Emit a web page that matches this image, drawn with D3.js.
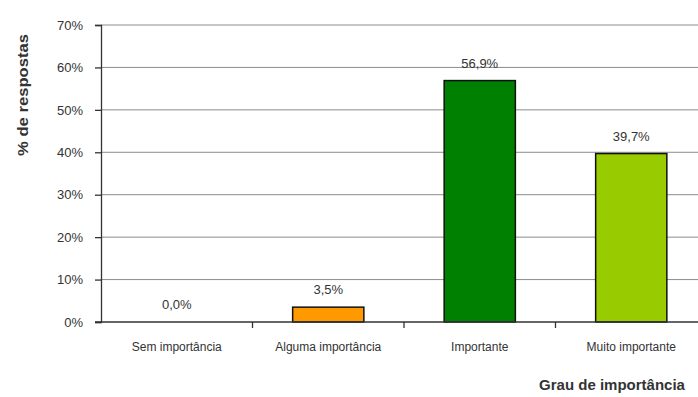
<!DOCTYPE html>
<html>
<head>
<meta charset="utf-8">
<script src="https://cdn.jsdelivr.net/npm/d3@7"></script>
<style>
  body { margin: 0; background: #fff; }
  svg { display: block; }
  text { font-family: "Liberation Sans", Arial, sans-serif; fill: #333; }
</style>
</head>
<body>
<div id="chart"></div>
<script>
// chart data
const categories = ["Sem importância", "Alguma importância", "Importante", "Muito importante"];
const values = [0.0, 3.5, 56.9, 39.7];
const valueLabels = ["0,0%", "3,5%", "56,9%", "39,7%"];
const barColors = ["#ff9900", "#ff9900", "#008000", "#99cc00"];
const yTicks = [0, 10, 20, 30, 40, 50, 60, 70];

const width = 698, height = 397;
const plot = {left: 101, top: 25, bottom: 322, right: 707};

const svg = d3.select("#chart").append("svg")
  .attr("width", width)
  .attr("height", height);

// scales
const x = d3.scaleBand()
  .domain(categories)
  .range([plot.left, plot.right])
  .padding(0);

const y = d3.scaleLinear()
  .domain([0, 70])
  .range([plot.bottom, plot.top]);

// gridlines
svg.append("g")
  .selectAll("line")
  .data(yTicks.slice(1))
  .enter().append("line")
    .attr("x1", plot.left)
    .attr("x2", width)
    .attr("y1", d => y(d))
    .attr("y2", d => y(d))
    .attr("stroke", "#8c8c8c")
    .attr("stroke-width", 1);

// y axis
const yAxis = svg.append("g")
  .attr("transform", "translate(" + plot.left + ",0)")
  .call(d3.axisLeft(y).tickValues(yTicks).tickFormat(d => d + "%").tickSize(6).tickPadding(12));
yAxis.select(".domain").attr("stroke", "#333").attr("stroke-width", 1.3);
yAxis.selectAll(".tick line").attr("stroke", "#333").attr("stroke-width", 1.3);
yAxis.selectAll("text")
  .style("font-size", "13px")
  .attr("fill", "#444");

// bars
const barW = x.bandwidth() * 0.47;
svg.append("g")
  .selectAll("rect")
  .data(values)
  .enter().append("rect")
    .attr("x", (d, i) => x(categories[i]) + (x.bandwidth() - barW) / 2)
    .attr("y", d => y(d))
    .attr("width", barW)
    .attr("height", d => y(0) - y(d))
    .attr("fill", (d, i) => barColors[i])
    .attr("stroke", "#111")
    .attr("stroke-width", 1.5);

// x axis
const xAxis = svg.append("g")
  .attr("transform", "translate(0," + plot.bottom + ")")
  .call(d3.axisBottom(x).tickSize(0).tickPadding(20));
xAxis.select(".domain").remove();
xAxis.append("line")
  .attr("x1", plot.left - 6).attr("x2", width)
  .attr("stroke", "#333").attr("stroke-width", 1.3);
xAxis.selectAll(".tick text")
  .style("font-size", "12px")
  .attr("fill", "#333");

// boundary ticks between categories
svg.append("g")
  .selectAll("line")
  .data(categories.slice(1))
  .enter().append("line")
    .attr("x1", d => x(d))
    .attr("x2", d => x(d))
    .attr("y1", plot.bottom)
    .attr("y2", plot.bottom + 6)
    .attr("stroke", "#333")
    .attr("stroke-width", 1.3);

// value labels
svg.append("g")
  .selectAll("text")
  .data(values)
  .enter().append("text")
    .attr("x", (d, i) => x(categories[i]) + x.bandwidth() / 2)
    .attr("y", d => y(d) - 13)
    .attr("text-anchor", "middle")
    .style("font-size", "13px")
    .attr("fill", "#444")
    .text((d, i) => valueLabels[i]);

// axis titles
svg.append("text")
  .attr("transform", "translate(28,95) rotate(-90)")
  .attr("text-anchor", "middle")
  .style("font-size", "14px")
  .style("font-weight", "bold")
  .attr("fill", "#222")
  .attr("textLength", 122)
  .attr("lengthAdjust", "spacingAndGlyphs")
  .text("% de respostas");

svg.append("text")
  .attr("x", 612)
  .attr("y", 390)
  .attr("text-anchor", "middle")
  .style("font-size", "15px")
  .style("font-weight", "bold")
  .attr("fill", "#222")
  .text("Grau de importância");
</script>
</body>
</html>
